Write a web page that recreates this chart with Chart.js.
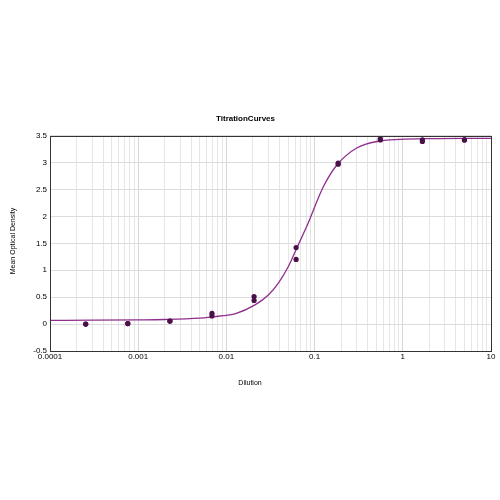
<!DOCTYPE html>
<html>
<head>
<meta charset="utf-8">
<script src="https://cdn.jsdelivr.net/npm/chart.js@4.4.1/dist/chart.umd.min.js"></script>
<style>
html,body{margin:0;padding:0;background:#fff;}
#wrap{width:500px;height:500px;}
</style>
</head>
<body>
<div id="wrap"><canvas id="c" width="500" height="500"></canvas></div>
<script>
// ---- data ----
const dilutions = [0.000254, 0.000762, 0.00229, 0.00686, 0.0206, 0.0617, 0.185, 0.556, 1.667, 5];
const odRep1 = [0.0, 0.01, 0.056, 0.198, 0.51, 1.42, 2.99, 3.44, 3.42, 3.42];
const odRep2 = [0.0, 0.01, 0.056, 0.15, 0.44, 1.20, 2.97, 3.42, 3.39, 3.42];

const curveX = [0.0001, 0.0003, 0.001, 0.002, 0.005, 0.0068, 0.0092, 0.0125, 0.0211, 0.0299, 0.0388, 0.0504, 0.0627, 0.0813, 0.1256, 0.178, 0.30, 0.55, 0.93, 2, 5, 10];
const curveY = [0.07, 0.072, 0.078, 0.085, 0.11, 0.13, 0.155, 0.19, 0.357, 0.54, 0.76, 1.07, 1.41, 1.81, 2.55, 2.95, 3.27, 3.40, 3.43, 3.445, 3.45, 3.45];

const xDecades = [0.0001, 0.001, 0.01, 0.1, 1];
const xMajorLabels = ["0.0001", "0.001", "0.01", "0.1", "1", "10"];
const xMajorValues = [0.0001, 0.001, 0.01, 0.1, 1, 10];
const minorSteps = [1, 2, 3, 4, 5, 6, 7, 8, 9];

const titleText = "TitrationCurves";
const xTitle = "Dilution";
const yTitle = "Mean Optical Density";

// ---- build ----
const xTickValues = [];
xDecades.forEach(d => minorSteps.forEach(s => xTickValues.push(+(d * s).toPrecision(6))));
xTickValues.push(10);

function isMajor(v) {
  return xMajorValues.some(m => Math.abs(v - m) / m < 1e-6);
}
function majorLabel(v) {
  const i = xMajorValues.findIndex(m => Math.abs(v - m) / m < 1e-6);
  return i >= 0 ? xMajorLabels[i] : '';
}

const pts = [];
dilutions.forEach((d, i) => { pts.push({x: d, y: odRep1[i]}); pts.push({x: d, y: odRep2[i]}); });
const curve = curveX.map((x, i) => ({x: x, y: curveY[i]}));

Chart.defaults.font.family = "'Liberation Sans', Arial, sans-serif";
Chart.defaults.font.size = 8;
Chart.defaults.color = '#000';

const boxPlugin = {
  id: 'box',
  afterDraw(chart) {
    const a = chart.chartArea, ctx = chart.ctx;
    ctx.save();
    ctx.strokeStyle = '#333';
    ctx.lineWidth = 1;
    ctx.strokeRect(Math.round(a.left) + 0.5, Math.round(a.top) + 0.5, Math.round(a.right - a.left), Math.round(a.bottom - a.top));
    ctx.fillStyle = '#000';
    ctx.font = "7px 'Liberation Sans', Arial, sans-serif";
    ctx.textAlign = 'center';
    ctx.textBaseline = 'middle';
    ctx.fillText(xTitle, 250, 383);
    ctx.translate(13, 241);
    ctx.rotate(-Math.PI / 2);
    ctx.fillText(yTitle, 0, 0);
    ctx.restore();
  }
};

new Chart(document.getElementById('c'), {
  type: 'scatter',
  data: {
    datasets: [
      {
        type: 'line',
        data: curve,
        borderColor: '#8e2f8e',
        borderWidth: 1.3,
        pointRadius: 0,
        fill: false,
        cubicInterpolationMode: 'monotone',
        order: 2
      },
      {
        type: 'scatter',
        data: pts,
        backgroundColor: '#4a1048',
        borderColor: '#4a1048',
        pointRadius: 2.6,
        borderWidth: 0,
        order: 1
      }
    ]
  },
  options: {
    responsive: false,
    animation: false,
    devicePixelRatio: 1,
    layout: {padding: {left: 0, right: 9, top: 0, bottom: 0}},
    plugins: {
      legend: {display: false},
      tooltip: {enabled: false},
      title: {
        display: true,
        text: titleText,
        font: {size: 8, weight: 'bold'},
        padding: {top: 114, bottom: 12},
        color: '#000'
      }
    },
    scales: {
      x: {
        type: 'logarithmic',
        min: 0.0001,
        max: 10,
        afterBuildTicks(scale) { scale.ticks = xTickValues.map(v => ({value: v, major: isMajor(v)})); },
        afterFit(scale) { scale.height = 149; },
        ticks: {
          autoSkip: false,
          maxRotation: 0,
          minRotation: 0,
          padding: 1,
          callback: (v) => majorLabel(v),
          font: {size: 8}
        },
        grid: {
          drawTicks: false,
          color: (ctx) => (ctx.tick && ctx.tick.major) ? '#d6d6d6' : '#e6e6e6',
          lineWidth: 1
        },
        border: {display: false}
      },
      y: {
        min: -0.5,
        max: 3.5,
        afterFit(scale) { scale.width = 50; },
        ticks: {
          stepSize: 0.5,
          padding: 3,
          font: {size: 8},
          callback: (v) => String(Math.round(v * 10) / 10)
        },
        grid: {
          drawTicks: false,
          color: '#dcdcdc',
          lineWidth: 1
        },
        border: {display: false}
      }
    }
  },
  plugins: [boxPlugin]
});
</script>
</body>
</html>
